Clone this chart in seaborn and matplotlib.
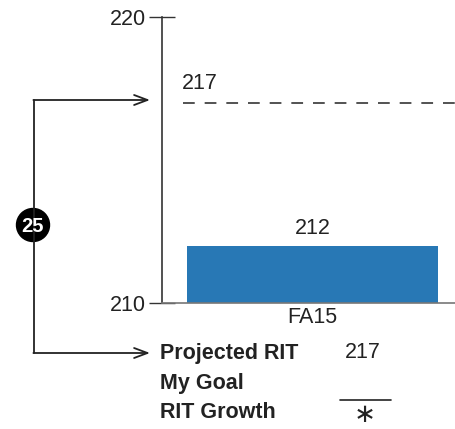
import matplotlib
matplotlib.use("Agg")
import matplotlib.pyplot as plt
from matplotlib.lines import Line2D
from matplotlib.patches import Circle
import pandas as pd
import seaborn as sns

# data
seasons = ["FA15"]
rit_scores = [212]
projected_rit = 217
goal_label = "25"
y_ticks = [210, 220]

W, H = 456, 429

sns.set_theme(style="white")
plt.rcParams["font.family"] = ["Liberation Sans", "DejaVu Sans"]

df = pd.DataFrame({"season": seasons, "rit": rit_scores})

fig = plt.figure(figsize=(W / 100, H / 100), dpi=100)
ax = fig.add_axes([162 / W, 1 - 303 / H, (W - 162) / W, (303 - 17) / H])


def fx(x):
    return x / W


def fy(y):
    return 1 - y / H


sns.barplot(data=df, x="season", y="rit", color="#2878b5", saturation=1,
            width=0.854, edgecolor="none", ax=ax)
ax.set_ylim(y_ticks[0], y_ticks[-1])
ax.set_xlim(-0.512, 0.488)
ax.set_xlabel("")
ax.set_ylabel("")
ax.set_yticks(y_ticks)

# value label on the bar
for i, v in enumerate(rit_scores):
    ax.text(i, v + 0.25, str(v), ha="center", va="bottom", fontsize=15.5, color="#222222")

# projected line
ax.axhline(projected_rit, xmin=0.071, xmax=1, color="#444444", lw=1.3, dashes=(6.5, 5.5))
ax.text(-0.445, projected_rit + 0.3, str(projected_rit), ha="left", va="bottom",
        fontsize=15.5, color="#222222")

for s in ["top", "right"]:
    ax.spines[s].set_visible(False)
ax.spines["left"].set_color("#333333")
ax.spines["left"].set_linewidth(1.2)
ax.spines["bottom"].set_color("#777777")
ax.spines["bottom"].set_linewidth(1.2)
ax.tick_params(axis="y", direction="inout", length=19, width=1, color="#333333",
               labelsize=15.5, labelcolor="#222222", pad=2, left=True)
ax.tick_params(axis="x", length=0, labelsize=15.5, labelcolor="#222222", pad=3)

# bracket with arrows on the left
fig.add_artist(Line2D([fx(34), fx(34)], [fy(100), fy(353)], transform=fig.transFigure,
                      color="#222222", lw=1.3))
for yy in [100, 353]:
    ax.annotate("", xy=(fx(150), fy(yy)), xytext=(fx(33.4), fy(yy)),
                xycoords="figure fraction", textcoords="figure fraction",
                arrowprops=dict(arrowstyle="->,head_length=0.8,head_width=0.3",
                                color="#222222", lw=1.3, shrinkA=0, shrinkB=0))

badge = Circle((33 / 100, (H - 225) / 100), 0.165, transform=fig.dpi_scale_trans,
               color="black")
fig.add_artist(badge)
fig.text(fx(33), fy(226), goal_label, ha="center", va="center", color="white",
         fontsize=14.5, fontweight="bold")

# legend-like rows below
rows = ["Projected RIT", "My Goal", "RIT Growth"]
for lbl, yy in zip(rows, [353, 383, 413]):
    fig.text(fx(160), fy(yy), lbl, ha="left", va="center", fontsize=15.5,
             fontweight="bold", color="#222222")
fig.text(fx(363), fy(353), str(projected_rit), ha="center", va="center", fontsize=15.5,
         color="#222222")
fig.add_artist(Line2D([fx(340), fx(391)], [fy(400), fy(400)], transform=fig.transFigure,
                      color="#222222", lw=1.2))
fig.text(fx(365), fy(428.5), "\u2217", ha="center", va="bottom", fontsize=19,
         color="#222222", family="DejaVu Sans")

fig.savefig("out.png", dpi=100)
